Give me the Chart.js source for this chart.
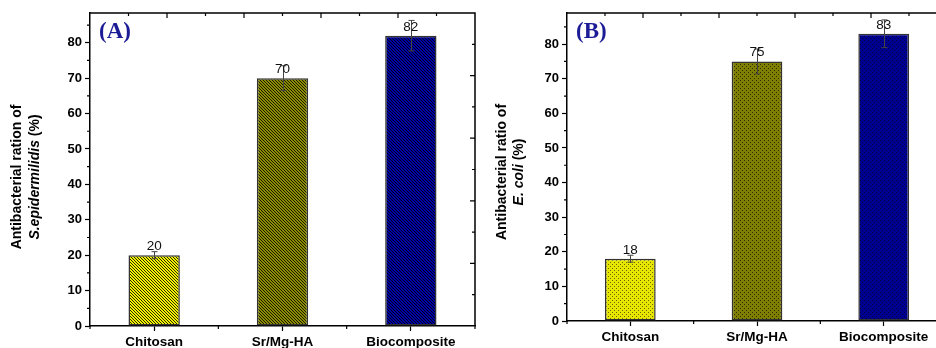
<!DOCTYPE html>
<html>
<head>
<meta charset="utf-8">
<script src="https://cdn.jsdelivr.net/npm/chart.js@4.4.1/dist/chart.umd.min.js"></script>
<style>
html,body{margin:0;padding:0;background:#fff;}
body{width:936px;height:348px;overflow:hidden;position:relative;}
canvas{position:absolute;top:0;}
</style>
</head>
<body>
<canvas id="chartA" width="480" height="348" style="left:0"></canvas>
<canvas id="chartB" width="470" height="348" style="left:480px"></canvas>
<script>
// ---- data ----
const categories = ['Chitosan', 'Sr/Mg-HA', 'Biocomposite'];
const valuesA = [20, 70, 82];
const errorsA = [1, 3.5, 4.3];
const valuesB = [18, 75, 83];
const errorsB = [1, 3.6, 4];
const yTickValues = [0, 10, 20, 30, 40, 50, 60, 70, 80];
const titleA = [[{t: 'Antibacterial ration of', i: false}], [{t: 'S.epidermilidis', i: true}, {t: ' (%)', i: false}]];
const titleB = [[{t: 'Antibacterial ratio of', i: false}], [{t: 'E. coli', i: true}, {t: ' (%)', i: false}]];
const panelLabels = ['(A)', '(B)'];

const FONT = '"Liberation Sans", Arial, sans-serif';

function makePattern(base, dark, kind) {
  const n = 12;
  const c = document.createElement('canvas');
  c.width = n; c.height = n;
  const ctx = c.getContext('2d');
  const img = ctx.createImageData(n, n);
  const hex = h => [parseInt(h.slice(1,3),16), parseInt(h.slice(3,5),16), parseInt(h.slice(5,7),16)];
  const b = hex(base), d = hex(dark);
  for (let y = 0; y < n; y++) {
    for (let x = 0; x < n; x++) {
      let isDark;
      if (kind === 'diag') isDark = (((x - y) % 3) + 3) % 3 === 0;
      else isDark = (Math.floor(x / 2) + Math.floor(y / 2)) % 2 === 0 && (x % 2 === 0) && (y % 2 === 0);
      const col = isDark ? d : b;
      const k = (y * n + x) * 4;
      img.data[k] = col[0]; img.data[k+1] = col[1]; img.data[k+2] = col[2]; img.data[k+3] = 255;
    }
  }
  ctx.putImageData(img, 0, 0);
  return document.createElement('canvas').getContext('2d').createPattern(c, 'repeat');
}

function makeChart(canvasId, values, errors, yMax, area, kind, titleLines, titlePos, panelLabel) {
  const canvas = document.getElementById(canvasId);
  const W = canvas.width, H = canvas.height;
  const fills = kind === 'diag'
    ? [makePattern('#f2f200', '#2a2a00', kind), makePattern('#8c8c00', '#1a1a00', kind), makePattern('#0000a8', '#000018', kind)]
    : [makePattern('#e6e600', '#6a6a00', kind), makePattern('#7e7e00', '#2e2e00', kind), makePattern('#000090', '#000040', kind)];

  const framePlugin = {
    id: 'frame',
    afterDatasetsDraw(chart) {
      const ctx = chart.ctx;
      const ys = chart.scales.y;
      const meta = chart.getDatasetMeta(0);
      ctx.save();
      ctx.strokeStyle = '#444';
      ctx.lineWidth = 1;
      meta.data.forEach((bar, i) => {
        const x = Math.round(bar.x) + 0.5;
        const yt = ys.getPixelForValue(values[i] + errors[i]);
        const yb = ys.getPixelForValue(values[i] - errors[i]);
        ctx.beginPath();
        ctx.moveTo(x, yt); ctx.lineTo(x, yb);
        ctx.moveTo(x - 3, yt); ctx.lineTo(x + 3, yt);
        ctx.moveTo(x - 3, yb); ctx.lineTo(x + 3, yb);
        ctx.stroke();
      });
      ctx.restore();
    },
    afterDraw(chart) {
      const ctx = chart.ctx;
      const ca = chart.chartArea;
      const ys = chart.scales.y;
      const meta = chart.getDatasetMeta(0);
      ctx.save();
      ctx.strokeStyle = '#000';
      ctx.lineWidth = 1.5;
      ctx.beginPath();
      ctx.moveTo(ca.left, ca.top); ctx.lineTo(ca.right, ca.top); ctx.lineTo(ca.right, ca.bottom);
      ctx.stroke();
      ctx.lineWidth = 1.2;
      ctx.beginPath();
      for (let v = 5; v < yMax; v += 10) {
        const y = ys.getPixelForValue(v);
        ctx.moveTo(ca.left, y); ctx.lineTo(ca.left - 3, y);
      }
      const w = ca.right - ca.left, h = ca.bottom - ca.top;
      for (let i = 0; i <= 3; i++) {
        const x = ca.left + i * w / 3;
        ctx.moveTo(x, ca.bottom); ctx.lineTo(x, ca.bottom + 3);
      }
      for (let i = 1; i < 10; i++) {
        const len = i % 2 === 0 ? 5 : 3;
        const x = ca.left + i * w / 10;
        ctx.moveTo(x, ca.top); ctx.lineTo(x, ca.top + len);
        const y = ca.top + i * h / 10;
        ctx.moveTo(ca.right, y); ctx.lineTo(ca.right - len, y);
      }
      ctx.stroke();
      ctx.fillStyle = '#111';
      ctx.font = '13.5px ' + FONT;
      ctx.textAlign = 'center';
      ctx.textBaseline = 'alphabetic';
      meta.data.forEach((bar, i) => {
        ctx.fillText(String(values[i]), bar.x, ys.getPixelForValue(values[i]) - 5);
      });
      titleLines.forEach((segs, li) => {
        ctx.save();
        ctx.translate(titlePos.x[li], titlePos.y);
        ctx.rotate(-Math.PI / 2);
        ctx.textAlign = 'left';
        ctx.textBaseline = 'middle';
        ctx.fillStyle = '#000';
        let total = 0;
        segs.forEach(s => { ctx.font = (s.i ? 'italic ' : '') + 'bold 14px ' + FONT; total += ctx.measureText(s.t).width; });
        let xx = -total / 2;
        segs.forEach(s => {
          ctx.font = (s.i ? 'italic ' : '') + 'bold 14px ' + FONT;
          ctx.fillText(s.t, xx, 0);
          xx += ctx.measureText(s.t).width;
        });
        ctx.restore();
      });
      ctx.fillStyle = '#1c1c96';
      ctx.font = 'bold 23px "Liberation Serif", "Times New Roman", serif';
      ctx.textAlign = 'left';
      ctx.textBaseline = 'middle';
      ctx.fillText(panelLabel, ca.left + 9, 32);
      ctx.restore();
    }
  };

  return new Chart(canvas, {
    type: 'bar',
    data: {
      labels: categories,
      datasets: [{
        data: values,
        backgroundColor: fills,
        borderColor: '#333',
        borderWidth: 1.5,
        borderSkipped: false,
        barPercentage: 0.4,
        categoryPercentage: 1
      }]
    },
    options: {
      responsive: false,
      animation: false,
      devicePixelRatio: 1,
      layout: { padding: { top: area.top, right: W - area.right, left: 0, bottom: 0 } },
      plugins: { legend: { display: false }, tooltip: { enabled: false } },
      scales: {
        x: {
          type: 'category',
          offset: true,
          afterFit(s) { s.height = H - area.bottom; },
          grid: { display: true, drawOnChartArea: false, drawTicks: true, tickLength: 5, tickColor: '#000', tickWidth: 1.2, offset: false },
          border: { display: true, color: '#000', width: 1.5 },
          ticks: { color: '#000', font: { family: FONT, size: 13.5, weight: 'bold' }, padding: 3, maxRotation: 0, autoSkip: false }
        },
        y: {
          min: 0,
          max: yMax,
          afterFit(s) { s.width = area.left; },
          afterBuildTicks(s) { s.ticks = yTickValues.map(v => ({ value: v })); },
          grid: { display: true, drawOnChartArea: false, drawTicks: true, tickLength: 5, tickColor: '#000', tickWidth: 1.2 },
          border: { display: true, color: '#000', width: 1.5 },
          ticks: { color: '#000', font: { family: FONT, size: 13, weight: 'bold' }, padding: 3 }
        }
      }
    },
    plugins: [framePlugin]
  });
}

makeChart('chartA', valuesA, errorsA, 88.4, { left: 90, right: 475, top: 13, bottom: 326 }, 'diag', titleA, { x: [17, 35], y: 177 }, panelLabels[0]);
makeChart('chartB', valuesB, errorsB, 89, { left: 87, right: 467, top: 13, bottom: 321 }, 'check', titleB, { x: [22, 39], y: 172 }, panelLabels[1]);
</script>
</body>
</html>
